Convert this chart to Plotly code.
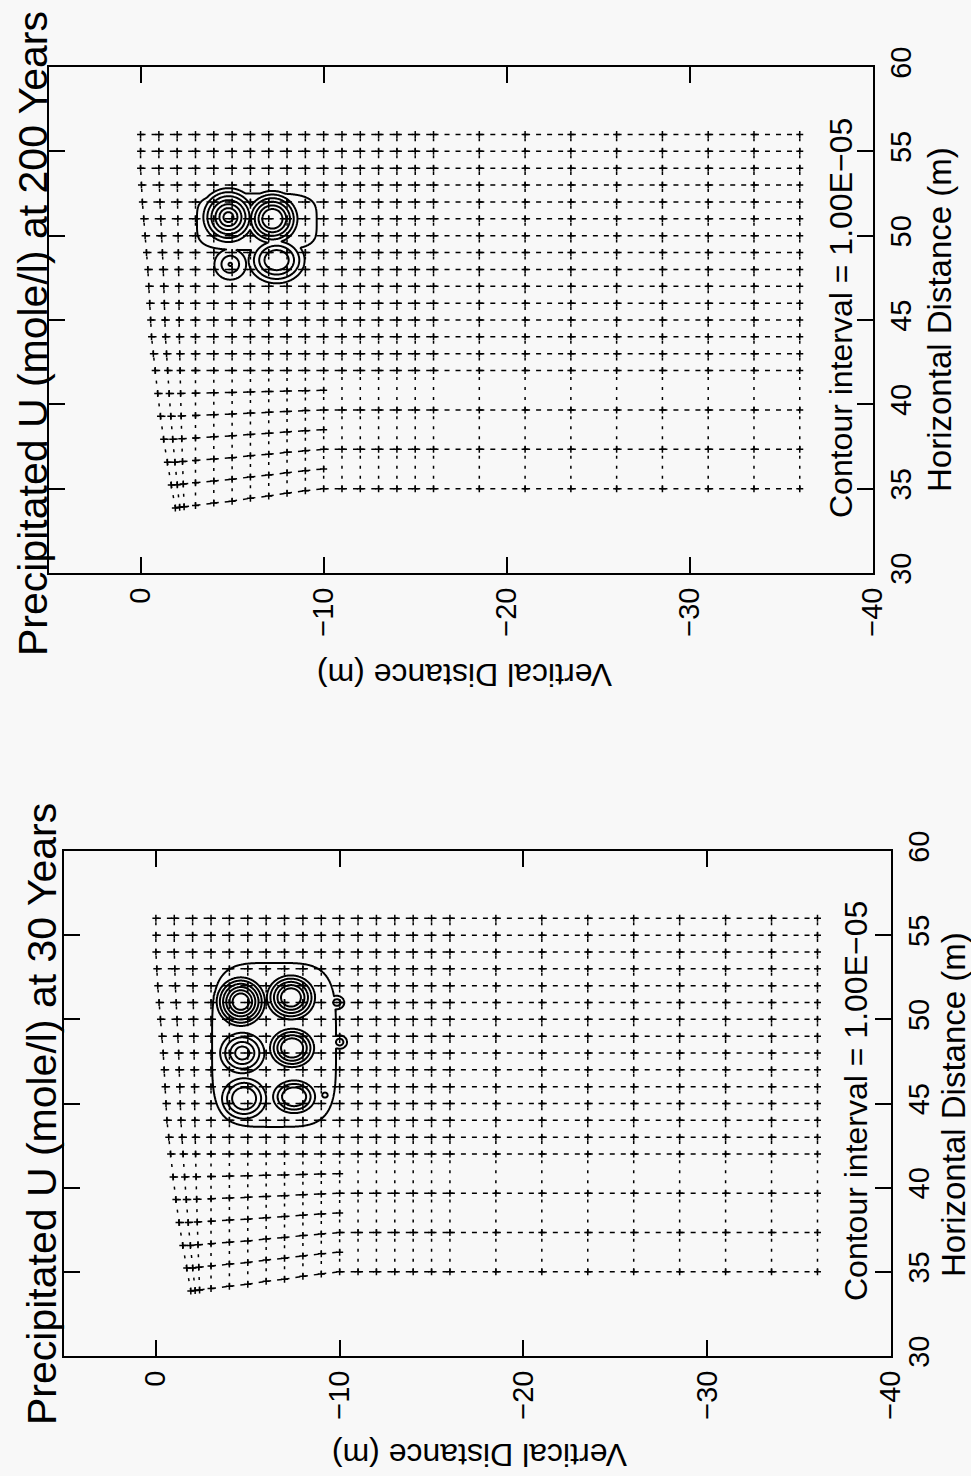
import numpy as np
import plotly.graph_objects as go

# ---------------- data ----------------
v_ticks = [0, -10, -20, -30, -40]              # Vertical Distance (m)
h_ticks = [30, 35, 40, 45, 50, 55, 60]          # Horizontal Distance (m)

# finite-difference mesh (nominal node positions)
mesh_cols = [0, -1, -2, -3, -4, -5, -6, -7, -8, -9, -10, -11, -12, -13, -14, -15, -16,
             -18.5, -21, -23.5, -26, -28.5, -31, -33.5, -36]
rows_upper = [42, 43, 44, 45, 46, 47, 48, 49, 50, 51, 52, 53, 54, 55, 56]
rows_lower_deep = [35, 37.33, 39.67]
rows_lower_shallow = [35, 36.17, 37.33, 38.5, 39.67, 40.83]
# ground surface (left edge of the mesh)
surface_H = [33.86, 36, 38, 40, 42, 44, 46, 48, 50, 52, 54, 56]
surface_V = [-1.9, -1.55, -1.25, -1.0, -0.8, -0.6, -0.5, -0.4, -0.25, -0.1, 0.0, 0.0]
# lower mesh boundary near the surface
bottom_V = [-10, -9.2, -8.3, -7.4, -6.3, -5.4, -4.4, -3.3, -1.9]
bottom_H = [35.0, 34.9, 34.8, 34.6, 34.5, 34.3, 34.2, 34.05, 33.86]

# precipitated U concentration highs (values in units of 1e-5 mole/l)
# centre V, centre H, radius R (m, along V) where value is 0, H/V radius ratio,
# gradient (per m), plateau cap
blobs_200 = {
    "V":     [-4.8, -7.2, -4.9, -7.43],
    "H":     [51.1, 51.0, 48.3, 48.55],
    "R":     [1.81, 1.78, 1.25, 1.82],
    "ratio": [1.08, 1.05, 1.05, 0.9],
    "grad":  [4.55, 4.88, 2.6, 3.45],
    "cap":   [7.3, 6.3, 3.1, 4.25],
}
env_200 = {"V": -6.35, "H": 50.83, "peak": 1.35, "aV": 3.8, "aH": 1.95}

blobs_30 = {
    "V":     [-4.62, -7.35, -4.7, -7.41, -4.8, -7.52, -9.85, -10.0, -9.2],
    "H":     [51.05, 51.3, 48.0, 48.3, 45.3, 45.4, 51.0, 48.65, 45.5],
    "R":     [1.66, 1.695, 1.75, 1.6, 1.75, 1.63, 0.6, 0.6, 0.55],
    "ratio": [1.1, 1.0, 1.0, 0.95, 1.0, 0.85, 1.0, 1.0, 1.0],
    "grad":  [5.75, 5.2, 3.66, 5.0, 3.64, 4.1, 5.0, 5.0, 5.0],
    "cap":   [7.3, 6.3, 5.3, 5.3, 4.3, 4.3, 2.2, 2.2, 2.2],
}
env_30 = {"V": -6.43, "H": 48.48, "peak": 1.35, "aV": 3.92, "aH": 5.66}

titles = ["Precipitated U (mole/l) at 200 Years", "Precipitated U (mole/l) at 30 Years"]
contour_label = "Contour interval = 1.00E\u221205"
xlabel = "Horizontal Distance (m)"
ylabel = "Vertical Distance (m)"

# ---------------- layout geometry (pixels) ----------------
W, HP = 971, 1476
frames = [  # left, right, top, bottom
    (49, 873, 67, 573),
    (64, 891, 851, 1356),
]
FONT = "Liberation Sans"
BG = "#f8f8f8"


def surf_at(h):
    return np.interp(h, surface_H, surface_V)


def bottom_at(v):
    return np.interp(v, bottom_V, bottom_H)


def compress(vn, s):
    if vn > -2.5:
        return -2.5 + (vn + 2.5) * (s + 2.5) / 2.5
    return vn


def node(vn, hn, shallow):
    h = hn
    s = surf_at(hn)
    if shallow and hn < 42:
        for _ in range(3):
            v = compress(vn, s)
            h = hn + (bottom_at(v) - 35) * (42 - hn) / 7
            s = surf_at(h)
    return compress(vn, s), h


shallow_cols = [c for c in mesh_cols if c >= -10]
deep_cols = [c for c in mesh_cols if c <= -10]

row_x, row_y, col_x, col_y = [], [], [], []
nodes = set()


def add_path(pts, xs, ys):
    for (a, b) in zip(pts[:-1], pts[1:]):
        xs += [a[0], b[0], None]
        ys += [a[1], b[1], None]
    for p in pts:
        nodes.add((round(p[0], 4), round(p[1], 4)))


for hn in rows_upper:
    add_path([node(c, hn, True) for c in mesh_cols], row_x, row_y)
for hn in rows_lower_deep:
    add_path([node(c, hn, False) for c in deep_cols], row_x, row_y)
for hn in rows_lower_shallow:
    add_path([node(c, hn, True) for c in shallow_cols], row_x, row_y)
for c in shallow_cols:
    add_path([node(c, hn, True) for hn in rows_lower_shallow + rows_upper], col_x, col_y)
for c in [c for c in mesh_cols if c < -10]:
    add_path([node(c, hn, False) for hn in rows_lower_deep + rows_upper], col_x, col_y)

node_x = [p[0] for p in nodes]
node_y = [p[1] for p in nodes]

# contour field grid
cv = np.arange(-12.5, -1.0, 0.04)
ch = np.arange(41.5, 55.5, 0.04)
VV, HH = np.meshgrid(cv, ch)


def field(b, e):
    q = (np.abs(VV - e["V"]) / e["aV"]) ** 4 + (np.abs(HH - e["H"]) / e["aH"]) ** 4
    z = e["peak"] * np.exp(-q ** 2)
    for v0, h0, R, ra, g, cap in zip(b["V"], b["H"], b["R"], b["ratio"], b["grad"], b["cap"]):
        r = np.sqrt((VV - v0) ** 2 + ((HH - h0) / ra) ** 2)
        z = np.maximum(z, np.clip(g * (R - r), 0, cap))
    return z * 1e-5


fields = [field(blobs_200, env_200), field(blobs_30, env_30)]

fig = go.Figure()
for i in range(2):
    xa = "x" if i == 0 else "x2"
    ya = "y" if i == 0 else "y2"
    fig.add_trace(go.Scatter(x=row_x, y=row_y, mode="lines", xaxis=xa, yaxis=ya,
                             line=dict(color="black", width=1.5, dash="5px,6px"),
                             hoverinfo="skip", showlegend=False))
    fig.add_trace(go.Scatter(x=col_x, y=col_y, mode="lines", xaxis=xa, yaxis=ya,
                             line=dict(color="black", width=1.5, dash="3px,7px"),
                             hoverinfo="skip", showlegend=False))
    fig.add_trace(go.Scatter(x=node_x, y=node_y, mode="markers", xaxis=xa, yaxis=ya,
                             marker=dict(symbol="cross-thin", size=5,
                                         line=dict(color="black", width=1.5)),
                             hoverinfo="skip", showlegend=False))
    fig.add_trace(go.Contour(x=cv, y=ch, z=fields[i], xaxis=xa, yaxis=ya,
                             contours=dict(coloring="lines", start=1e-5, end=1e-4, size=1e-5),
                             colorscale=[[0, "black"], [1, "black"]], showscale=False,
                             line=dict(width=2, smoothing=1), hoverinfo="skip"))

layout = dict(width=W, height=HP, margin=dict(l=0, r=0, t=0, b=0, autoexpand=False),
              paper_bgcolor=BG, plot_bgcolor=BG, showlegend=False)
annotations = []
for i, (l, r, t, b) in enumerate(frames):
    sx = "" if i == 0 else "2"
    layout["xaxis" + sx] = dict(
        domain=[l / W, r / W], range=[5, -40], tickvals=v_ticks, anchor="y" + sx,
        ticks="inside", ticklen=16, tickwidth=2, tickcolor="black", automargin=False,
        showline=True, linecolor="black", linewidth=2, mirror="ticks",
        showgrid=False, zeroline=False, tickangle=-90, ticklabelstandoff=1,
        tickfont=dict(family=FONT, size=29, color="black"))
    layout["yaxis" + sx] = dict(
        domain=[1 - b / HP, 1 - t / HP], range=[30, 60], tickvals=h_ticks, anchor="x" + sx,
        side="right", ticks="inside", ticklen=16, tickwidth=2, tickcolor="black",
        automargin=False,
        showline=True, linecolor="black", linewidth=2, mirror="ticks",
        showgrid=False, zeroline=False, tickangle=-90, ticklabelstandoff=1,
        tickfont=dict(family=FONT, size=29, color="black"))

ann_pos = [
    dict(title=(33, 334), cont=(841, 318), hor=(939, 320), ver=(465, 675)),
    dict(title=(42, 1114), cont=(856, 1101), hor=(953, 1105), ver=(480, 1455)),
]
for i, p in enumerate(ann_pos):
    for key, txt, ang, fs in [("title", titles[i], -90, 41), ("cont", contour_label, -90, 32),
                              ("hor", xlabel, -90, 33), ("ver", ylabel, 180, 32)]:
        x, y = p[key]
        annotations.append(dict(x=x / W, y=1 - y / HP, xref="paper", yref="paper",
                                text=txt, textangle=ang, showarrow=False,
                                xanchor="center", yanchor="middle",
                                font=dict(family=FONT, size=fs, color="black")))
layout["annotations"] = annotations
fig.update_layout(**layout)
fig.write_html("out.html", config={"displayModeBar": False},
               post_script="document.body.style.margin='0';")
